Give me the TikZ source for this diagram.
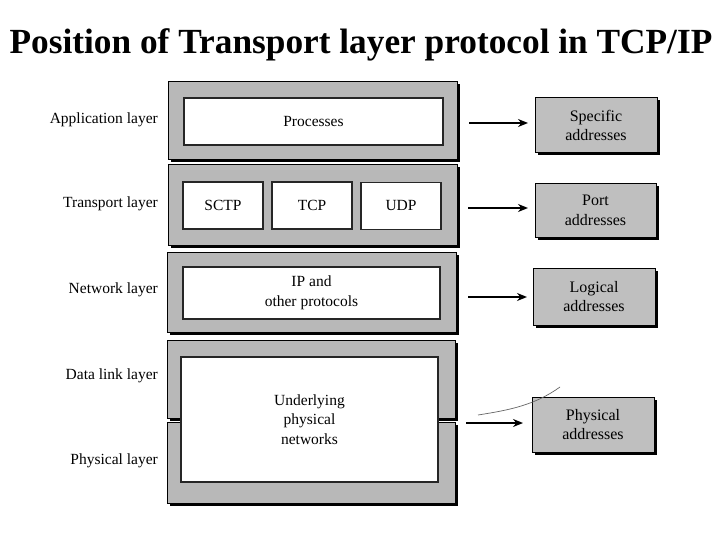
\documentclass[tikz,border=0pt]{standalone}
\usepackage{fontspec}
\setmainfont{Liberation Serif}
\usetikzlibrary{shadows,arrows.meta}
\begin{document}
\begin{tikzpicture}[x=1pt,y=-1pt,
  layerbox/.style={draw=black, line width=1pt, fill=black!28, inner sep=0pt, outer sep=0pt,
    drop shadow={shadow xshift=2.5pt, shadow yshift=-2.5pt, fill=black, opacity=1}},
  innerbox/.style={draw=black!85, line width=1.2pt, fill=white, inner sep=0pt, outer sep=0pt,
    font=\fontsize{15.5}{19.5}\selectfont, align=center},
  addrbox/.style={draw=black, line width=1pt, fill=black!25, inner sep=0pt, outer sep=0pt,
    font=\fontsize{16}{19.5}\selectfont, align=center,
    drop shadow={shadow xshift=2.5pt, shadow yshift=-2.5pt, fill=black, opacity=1}},
  lbl/.style={anchor=east, font=\fontsize{15.5}{18}\selectfont, inner sep=0pt},
  arr/.style={line width=2pt, -{Stealth[length=10pt,width=8pt]}}]
\fill[white] (0,0) rectangle (720,540);
\useasboundingbox (0,0) rectangle (720,540);
\node[font=\bfseries\fontsize{35.3}{38}\selectfont, inner sep=0pt] (title) at (361,45) {Position of Transport layer protocol in TCP/IP};
% layers
\node[layerbox, minimum width=289pt, minimum height=78pt] (app) at (312.5,121) {};
\node[layerbox, minimum width=289pt, minimum height=80pt] (trans) at (312.5,205) {};
\node[layerbox, minimum width=289pt, minimum height=80pt] (net) at (311.5,292) {};
\node[layerbox, minimum width=288pt, minimum height=78pt] (dl) at (311,379) {};
\node[layerbox, minimum width=288pt, minimum height=81pt] (phy) at (311,462.5) {};
% inner boxes
\node[innerbox, minimum width=259pt, minimum height=47pt] (proc) at (313.5,121.5) {Processes};
\node[innerbox, minimum width=80pt, minimum height=47pt] (sctp) at (223,205.5) {SCTP};
\node[innerbox, minimum width=80pt, minimum height=47pt] (tcp) at (312,205.5) {TCP};
\node[innerbox, minimum width=80pt, minimum height=47pt] (udp) at (401,206) {UDP};
\node[innerbox, minimum width=257pt, minimum height=52pt] (ip) at (311.5,293) {IP and\\other protocols};
\node[innerbox, minimum width=257pt, minimum height=125pt] (under) at (309.5,419.5) {Underlying\\physical\\networks};
% labels
\node[lbl] (lapp) at (158,120) {Application layer};
\node[lbl] (ltr) at (158,204) {Transport layer};
\node[lbl] (lnet) at (158,290) {Network layer};
\node[lbl] (ldl) at (158,376) {Data link layer};
\node[lbl] (lphy) at (158,461) {Physical layer};
% address boxes
\node[addrbox, minimum width=122pt, minimum height=55pt] (spec) at (596,125.5) {Specific\\addresses};
\node[addrbox, minimum width=121pt, minimum height=53pt] (port) at (595.5,210.5) {Port\\addresses};
\node[addrbox, minimum width=122pt, minimum height=57pt] (logi) at (594,296.5) {Logical\\addresses};
\node[addrbox, minimum width=122pt, minimum height=55pt] (phya) at (593,424.5) {Physical\\addresses};
% arrows
\coordinate (s1) at (469,123);
\coordinate (s2) at (468,208);
\coordinate (s3) at (468,297);
\coordinate (s4) at (466,423);
\draw[arr, shorten >=7pt] (s1) -- (s1 -| spec.west);
\draw[arr, shorten >=7pt] (s2) -- (s2 -| port.west);
\draw[arr, shorten >=6pt] (s3) -- (s3 -| logi.west);
\draw[arr, shorten >=9pt] (s4) -- (s4 -| phya.west);
% stray mark
\coordinate (m1) at (478,415);
\coordinate (m2) at (560,387);
\draw[black!60, line width=0.7pt] (m1) .. controls (510,410) and (535,405) .. (m2);
\end{tikzpicture}
\end{document}
